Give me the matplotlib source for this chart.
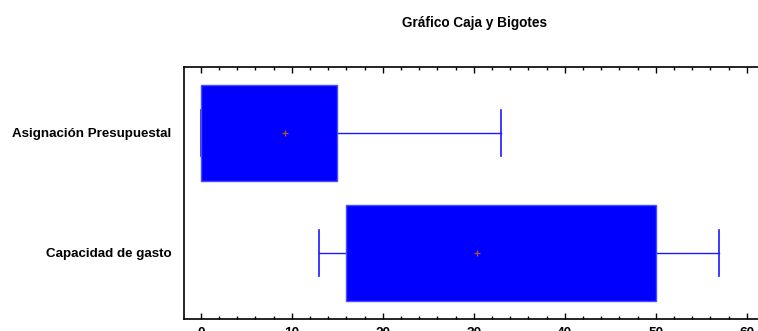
import matplotlib
matplotlib.use("Agg")
import matplotlib.pyplot as plt
from matplotlib.ticker import MultipleLocator

plt.rcParams['font.family'] = ['Liberation Sans', 'DejaVu Sans']

# data (bottom to top)
labels = ["Capacidad de gasto", "Asignación Presupuestal"]
whisker_low = [13, 0]
q1 = [16, 0]
median = [30, 6]
q3 = [50, 15]
whisker_high = [57, 33]
means = [30.4, 9.2]

stats = []
for i in range(len(labels)):
    stats.append({
        "label": labels[i],
        "whislo": whisker_low[i],
        "q1": q1[i],
        "med": median[i],
        "q3": q3[i],
        "whishi": whisker_high[i],
        "mean": means[i],
    })

fig = plt.figure(figsize=(7.58, 3.31), dpi=100)
# right edge of the axes runs past the figure, like the reference
ax = fig.add_axes([184 / 758, 12 / 331, 590 / 758, 252 / 331])

ax.bxp(stats, positions=[1, 2], vert=False, widths=0.8, patch_artist=True,
       showmeans=True, showfliers=False,
       boxprops=dict(facecolor="#0000ff", edgecolor="#4b4bff", linewidth=1, zorder=2),
       medianprops=dict(color="#0000ff", linewidth=0),
       whiskerprops=dict(color="#1a1aff", linewidth=1, zorder=1),
       capprops=dict(color="#1a1aff", linewidth=1.2, zorder=1),
       meanprops=dict(marker="+", markeredgecolor="#c0502a", markersize=4,
                      markeredgewidth=0.9, zorder=3),
       capwidths=0.38)

ax.set_xlim(-1.85, 63)
ax.set_ylim(0.45, 2.55)
ax.xaxis.set_major_locator(MultipleLocator(10))
ax.xaxis.set_minor_locator(MultipleLocator(2))
ax.tick_params(axis="x", which="both", direction="in", top=True, bottom=True,
               labelsize=9.8, pad=5, width=1)
ax.tick_params(axis="x", which="major", length=4)
ax.tick_params(axis="x", which="minor", length=2.5)
ax.tick_params(axis="y", length=0, labelsize=9.6, pad=9)
for lab in ax.get_xticklabels() + ax.get_yticklabels():
    lab.set_fontweight("bold")
for s in ax.spines.values():
    s.set_linewidth(1.2)

fig.text(474 / 758, 1 - 23 / 331, "Gráfico Caja y Bigotes", ha="center", va="center",
         fontsize=9.8, fontweight="bold")

fig.savefig("out.png", dpi=100)
